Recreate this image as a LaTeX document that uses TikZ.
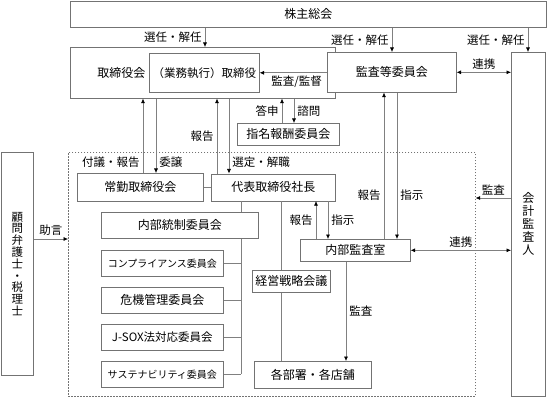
\documentclass[tikz,border=0pt]{standalone}
\usepackage{fontspec}
\setmainfont{Noto Sans CJK JP}
\usetikzlibrary{arrows.meta}
\definecolor{boxgray}{gray}{0.45}
\definecolor{linegray}{gray}{0.5}

\begin{document}
\begin{tikzpicture}[x=1pt, y=-1pt,
  box/.style={draw=boxgray, fill=white, line width=0.6pt, inner sep=0pt, anchor=north west, font=\fontsize{12}{12}\selectfont},
  small/.style={font=\fontsize{10}{10}\selectfont},
  arr/.style={draw=linegray, line width=0.6pt, -{Latex[length=4.5pt,width=4pt,color=black]}},
  dlink/.style={arr, {Latex[length=4.5pt,width=4pt,color=black]}-{Latex[length=4.5pt,width=4pt,color=black]}},
  link/.style={draw=linegray, line width=0.6pt},
  lbl/.style={font=\fontsize{11.5}{12}\selectfont, text=black, inner sep=3pt}]

\useasboundingbox (0,0) rectangle (548,398);

% dashed frame of the executive side
\node[draw=boxgray, dash pattern=on 1.5pt off 1.5pt, line width=0.6pt, inner sep=0pt, anchor=north west,
      minimum width=407, minimum height=244] (group) at (68,152) {};

\node[box, minimum width=476, minimum height=26] (soukai) at (70,1) {株主総会};
\node[box, minimum width=265, minimum height=51, text width=211pt, inner xsep=27pt, align=left] (torikai) at (70,47) {取締役会};
\node[box, minimum width=110, minimum height=39, font=\fontsize{11.5}{12}\selectfont] (gyomu) at (149,53) {（業務執行）取締役};
\node[box, minimum width=129, minimum height=40] (kansa) at (327,52) {監査等委員会};
\node[box, minimum width=34, minimum height=344, align=center, font=\fontsize{12}{13}\selectfont] (kaikei) at (511,52) {会\\計\\監\\査\\人};
\node[box, minimum width=102, minimum height=22] (shimei) at (237,123) {指名報酬委員会};
\node[box, minimum width=32, minimum height=223, align=center, font=\fontsize{11.5}{11.8}\selectfont] (komon) at (1,152) {顧\\問\\弁\\護\\士\\・\\税\\理\\士};
\node[box, minimum width=126, minimum height=28] (joukin) at (77,173) {常勤取締役会};
\node[box, minimum width=124, minimum height=27] (daihyo) at (211,173.5) {代表取締役社長};
\node[box, minimum width=157, minimum height=26] (naibu) at (101,212) {内部統制委員会};
\node[box, small, minimum width=122, minimum height=26] (compl) at (101,250) {コンプライアンス委員会};
\node[box, minimum width=122, minimum height=26] (kiki) at (101,287) {危機管理委員会};
\node[box, minimum width=122, minimum height=26, font=\fontsize{11.5}{12}\selectfont] (jsox) at (101,324) {J-SOX法対応委員会};
\node[box, small, minimum width=122, minimum height=26] (sustain) at (101,361) {サステナビリティ委員会};
\node[box, minimum width=78, minimum height=22] (keiei) at (252,270) {経営戦略会議};
\node[box, minimum width=117, minimum height=27] (kakubu) at (254,361) {各部署・各店舗};
\node[box, minimum width=110, minimum height=22] (naikan) at (300,239) {内部監査室};

% top level
\draw[arr] (205,0 |- soukai.south) -- node[lbl, left] {選任・解任} (205,0 |- torikai.north);
\draw[arr] (392,0 |- soukai.south) -- node[lbl, left] {選任・解任} (392,0 |- kansa.north);
\draw[arr] (528,0 |- soukai.south) -- node[lbl, left] {選任・解任} (528,0 |- kaikei.north);
\draw[dlink] (kansa.east) -- node[lbl, above] {連携} (kaikei.west |- kansa.east);
\draw[arr] (kansa.west |- gyomu.east) -- node[lbl, below, pos=0.45] {監査/監督} (gyomu.east);
\draw[arr] (282,0 |- shimei.north) -- node[lbl, left] {答申} (282,0 |- torikai.south);
\draw[arr] (294,0 |- torikai.south) -- node[lbl, right] {諮問} (294,0 |- shimei.north);

% board to executives
\draw[arr] (143,0 |- joukin.north) -- node[lbl, left, pos=0.15] {付議・報告} (143,0 |- torikai.south);
\draw[arr] (156,0 |- torikai.south) -- node[lbl, right, pos=0.85] {委譲} (156,0 |- joukin.north);
\draw[arr] (217,0 |- daihyo.north) -- node[lbl, left] {報告} (217,0 |- torikai.south);
\draw[arr] (229,0 |- torikai.south) -- node[lbl, right, pos=0.85] {選定・解職} (229,0 |- daihyo.north);
\draw[link] (joukin) -- (daihyo);

% committees
\draw[link] (241,0 |- daihyo.south) -- (241,0 |- naibu.north);
\draw[link] (241,0 |- naibu.south) -- (241,0 |- sustain.east);
\foreach \n in {compl,kiki,jsox,sustain}
  \draw[link] (\n.east) -- (241,0 |- \n.east);
\draw[link] (281,0 |- daihyo.south) -- (281,0 |- keiei.north);
\draw[link] (281,0 |- keiei.south) -- (281,0 |- kakubu.north);

% internal audit
\draw[arr] (316,0 |- naikan.north) -- node[lbl, left] {報告} (316,0 |- daihyo.south);
\draw[arr] (328,0 |- daihyo.south) -- node[lbl, right] {指示} (328,0 |- naikan.north);
\draw[arr] (384,0 |- naikan.north) -- node[lbl, left, pos=0.3] {報告} (384,0 |- kansa.south);
\draw[arr] (397,0 |- kansa.south) -- node[lbl, right, pos=0.7] {指示} (397,0 |- naikan.north);
\draw[arr] (346,0 |- naikan.south) -- node[lbl, right] {監査} (346,0 |- kakubu.north);
\draw[dlink] (naikan.east) -- node[lbl, above] {連携} (kaikei.west |- naikan.east);

% outside
\draw[arr] (kaikei.west |- 0,198) -- node[lbl, above] {監査} (group.east |- 0,198);
\draw[arr] (komon.east |- 0,239) -- node[lbl, above] {助言} (group.west |- 0,239);

\end{tikzpicture}
\end{document}
